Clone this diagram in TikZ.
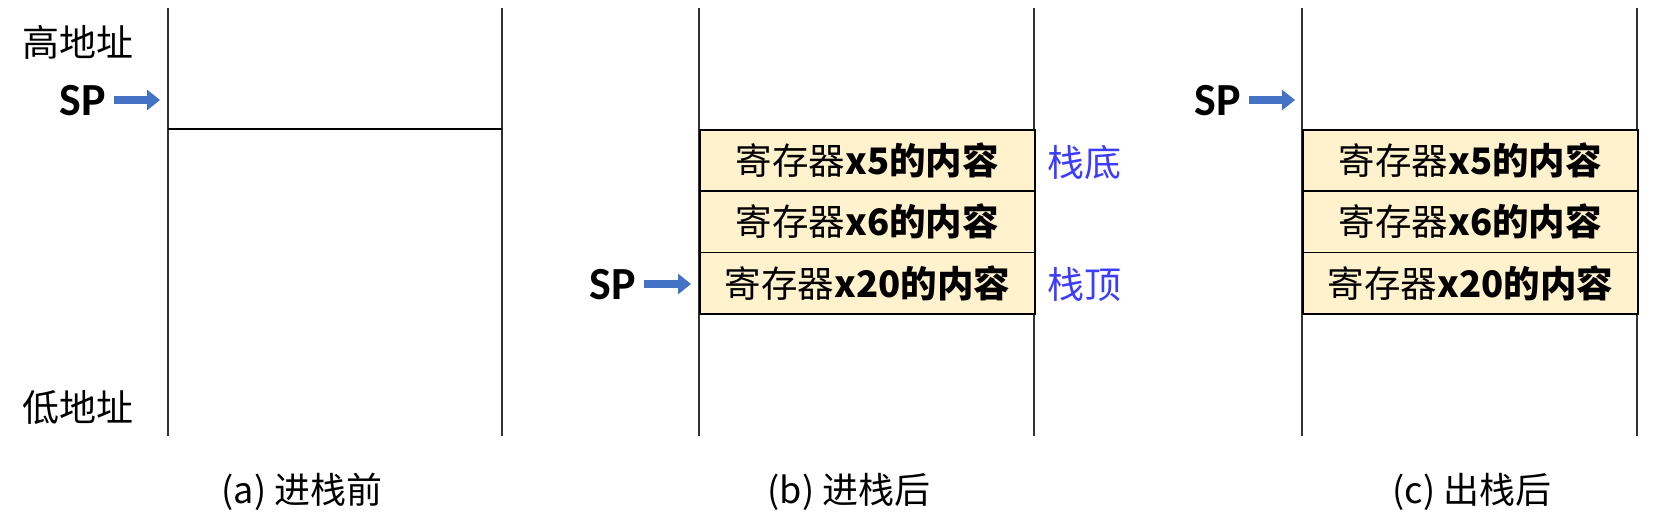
\documentclass[tikz,border=0pt]{standalone}
\usepackage{fontspec}
\setmainfont{Noto Sans CJK SC}
\newfontfamily\spfont{Carlito}
\usetikzlibrary{arrows.meta}
\definecolor{cellfill}{RGB}{255,242,204}
\definecolor{arrowblue}{RGB}{68,114,196}
\definecolor{arrowedge}{RGB}{47,82,143}
\definecolor{labelblue}{RGB}{60,60,255}
\definecolor{wallgray}{RGB}{50,50,50}
\begin{document}
\begin{tikzpicture}[x=1pt,y=-1pt,
  wall/.style={line width=1.6pt, draw=wallgray},
  cell/.style={draw=black, line width=1.8pt, fill=cellfill, minimum width=335pt,
    minimum height=61.3pt, inner sep=0pt, anchor=north west,
    font=\fontsize{36.5}{40}\selectfont},
  addr/.style={font=\fontsize{37}{40}\selectfont, inner sep=0pt},
  sptext/.style={font=\fontsize{46}{50}\selectfont\spfont\bfseries, inner sep=0pt, anchor=east},
  sparrow/.style={line width=7.5pt, draw=arrowblue, -{Triangle[length=13pt,width=20pt]}},
  side/.style={font=\fontsize{37}{40}\selectfont, text=labelblue, inner sep=0pt, anchor=west},
  caption/.style={font=\fontsize{36}{40}\selectfont, inner sep=0pt}]
\useasboundingbox (0,0) rectangle (1660,525);
% ---------- panel (a)
\draw[wall] (168,8) -- (168,436);
\draw[wall] (502,8) -- (502,436);
\draw[line width=2pt] (168,129) -- (502,129);
\node[addr] (hi) at (78,42) {高地址};
\node[addr] (lo) at (78,408) {低地址};
\node[sptext] (spa) at (106,101) {SP};
\coordinate (ta) at (160,100);
\draw[sparrow] ([xshift=8pt]spa.east |- ta) -- (ta);
\node[caption] (capa) at (302,492) {(a) 进栈前};
% ---------- panel (b)
\draw[wall] (699,8) -- (699,436);
\draw[wall] (1034,8) -- (1034,436);
\node[cell] (b1) at (699,129) {寄存器\textbf{x5的内容}};
\node[cell] (b2) at (699,190.3) {寄存器\textbf{x6的内容}};
\node[cell] (b3) at (699,251.6) {寄存器\textbf{x20的内容}};
\node[side] (bot) at (1047,162) {栈底};
\node[side] (top) at (1047,284) {栈顶};
\node[sptext] (spb) at (636,285) {SP};
\coordinate (tb) at (691,284);
\draw[sparrow] ([xshift=8pt]spb.east |- tb) -- (tb);
\node[caption] (capb) at (849,492) {(b) 进栈后};
% ---------- panel (c)
\draw[wall] (1302,8) -- (1302,436);
\draw[wall] (1637,8) -- (1637,436);
\node[cell] (c1) at (1302,129) {寄存器\textbf{x5的内容}};
\node[cell] (c2) at (1302,190.3) {寄存器\textbf{x6的内容}};
\node[cell] (c3) at (1302,251.6) {寄存器\textbf{x20的内容}};
\node[sptext] (spc) at (1241,101) {SP};
\coordinate (tc) at (1295,100);
\draw[sparrow] ([xshift=8pt]spc.east |- tc) -- (tc);
\node[caption] (capc) at (1472,492) {(c) 出栈后};
\end{tikzpicture}
\end{document}
